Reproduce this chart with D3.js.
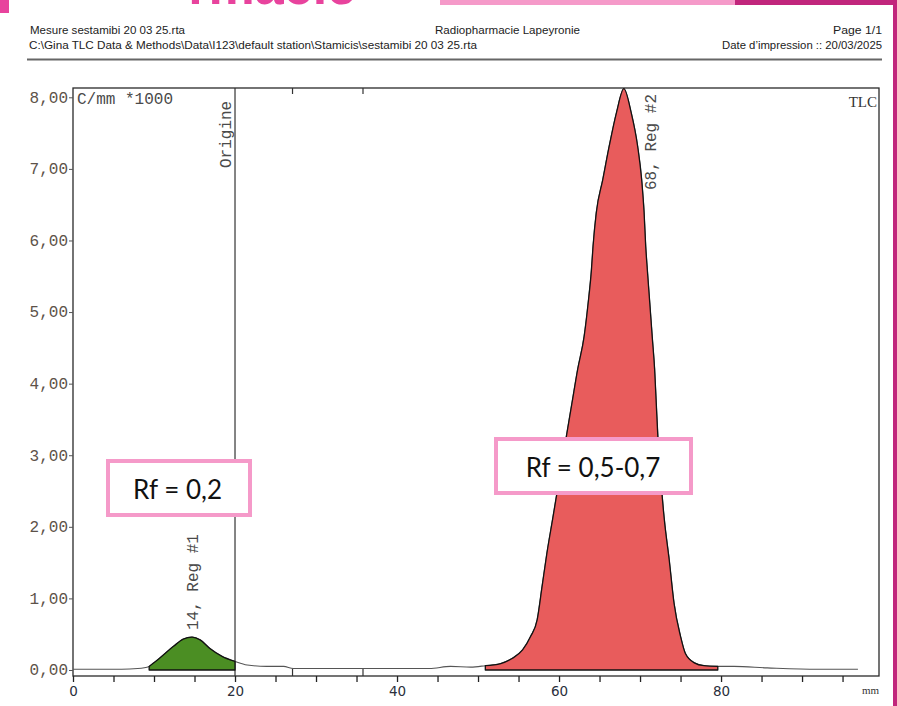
<!DOCTYPE html>
<html>
<head>
<meta charset="utf-8">
<script src="https://cdn.jsdelivr.net/npm/d3@7"></script>
<style>
    body { margin: 0; background: #fff; }
    svg { display: block; }
</style>
</head>
<body>
<div id="chart"></div>
<script>
// Trace du chromatogramme : position (mm) et comptage (C/mm *1000)
const posMm = [0, 2, 4, 6, 8, 9.4, 10.75, 12.4, 13.6, 14.7, 15.7, 16.9, 18.4, 20, 21.5, 23.9, 26, 27.2, 30, 35, 40, 44,
    46.6, 49.1, 50.9, 52.8, 54.2, 55.5, 56.5, 57.3, 57.9, 58.5, 59.2, 60.9, 61.6, 62.3, 63.1, 63.6, 64.0, 64.2, 64.6,
    65.4, 66.2, 67.1, 68.0, 68.9, 69.7, 70.2, 70.5, 70.7, 70.9, 71.2, 71.5, 71.8, 72.0, 72.2, 73.0, 73.6, 74.2, 75.0,
    75.6, 76.7, 77.9, 79.6, 81.6, 85.7, 91.9, 96.9];
const counts = [0.01, 0.01, 0.01, 0.01, 0.02, 0.05, 0.17, 0.33, 0.43, 0.46, 0.42, 0.30, 0.19, 0.12, 0.07, 0.05, 0.05, 0.02, 0.02, 0.02, 0.02, 0.02,
    0.05, 0.04, 0.06, 0.09, 0.16, 0.28, 0.47, 0.70, 1.16, 1.63, 2.10, 3.26, 3.73, 4.20, 4.66, 5.13, 5.59, 5.92, 6.39,
    6.85, 7.32, 7.79, 8.12, 7.79, 7.32, 6.85, 6.39, 5.92, 5.59, 5.13, 4.66, 4.20, 3.73, 3.26, 2.10, 1.54, 0.93, 0.47,
    0.23, 0.10, 0.06, 0.05, 0.05, 0.03, 0.01, 0.01];

// Régions intégrées
const regionNames = ['Reg #1', 'Reg #2'];
const regionPeak = [14, 68];
const regionStart = [9.4, 50.9];
const regionEnd = [20, 79.6];
const regionRf = ['Rf = 0,2', 'Rf = 0,5-0,7'];

// Repères
const originMm = 20;
const markTop = [27.1, 35.8, 68];
const markBottom = [27.1, 35.8];

// Axes
const yTicks = [0, 1, 2, 3, 4, 5, 6, 7, 8];
const xTicks = [0, 5, 10, 15, 20, 25, 30, 35, 40, 45, 50, 55, 60, 65, 70, 75, 80, 85, 90, 95];
const xLabels = [0, 20, 40, 60, 80];

// Couleurs
const COLOR_REG = ['#4b8e23', '#e85c5c'],
    COLOR_PINK = '#f59ac9',
    COLOR_MAGENTA = '#c1267c',
    COLOR_TEXT_PINK = '#e8439d';

const W = 897, H = 706;
let margin = {top: 88, left: 73, right: 879, bottom: 676};

let svg = d3.select('#chart').append('svg')
    .attr('width', W).attr('height', H);

//Bandeau du haut
svg.append('rect').attr('x', 0).attr('y', 0).attr('width', 9).attr('height', 13).attr('fill', COLOR_TEXT_PINK);
svg.append('text').attr('x', 356).attr('y', 4)
    .attr('text-anchor', 'end')
    .style('font-family', 'Liberation Sans, sans-serif').style('font-weight', 'bold').style('font-size', '52px')
    .attr('fill', COLOR_TEXT_PINK).text('rmacie');
svg.append('rect').attr('x', 440).attr('y', 0).attr('width', 295).attr('height', 5).attr('fill', COLOR_PINK);
svg.append('rect').attr('x', 735).attr('y', 0).attr('width', 162).attr('height', 5).attr('fill', COLOR_MAGENTA);
svg.append('rect').attr('x', 893).attr('y', 0).attr('width', 4).attr('height', H).attr('fill', COLOR_MAGENTA);

//En-tête du rapport
let header = svg.append('g')
    .style('font-family', '"Liberation Sans Narrow", "Liberation Sans", sans-serif')
    .style('font-size', '11.5px')
    .attr('fill', '#222');

function headText(x, y, w, anchor, txt) {
    header.append('text').attr('x', x).attr('y', y)
        .attr('text-anchor', anchor)
        .attr('textLength', w).attr('lengthAdjust', 'spacingAndGlyphs')
        .text(txt);
}
headText(30, 34, 155, 'start', 'Mesure sestamibi 20 03 25.rta');
headText(435, 34, 145, 'start', 'Radiopharmacie Lapeyronie');
headText(833, 34, 49, 'start', 'Page  1/1');
headText(29, 49, 448, 'start', 'C:\\Gina TLC Data & Methods\\Data\\I123\\default station\\Stamicis\\sestamibi 20 03 25.rta');
headText(722, 49, 160, 'start', 'Date d\u2019impression :: 20/03/2025');

svg.append('line')
    .attr('x1', 27).attr('x2', 882).attr('y1', 59.5).attr('y2', 59.5)
    .attr('stroke', '#666').attr('stroke-width', 2);

//Echelles
let x = d3.scaleLinear().domain([0, 99.5]).range([margin.left, margin.right]);
let y = d3.scaleLinear().domain([-0.084, 8.13]).range([margin.bottom, margin.top]);

let data = posMm.map(function(d, i) { return [d, counts[i]]; });

//Cadre
svg.append('rect')
    .attr('x', margin.left).attr('y', margin.top)
    .attr('width', margin.right - margin.left).attr('height', margin.bottom - margin.top)
    .attr('fill', 'none').attr('stroke', '#2a2a2a').attr('stroke-width', 1.3);

//Axe Y
let yAxis = svg.append('g')
    .attr('transform', 'translate(' + margin.left + ',0)')
    .call(d3.axisLeft(y).tickValues(yTicks).tickSize(4).tickPadding(1)
        .tickFormat(function(d) { return d.toFixed(2).replace('.', ','); }));
yAxis.select('.domain').remove();
yAxis.selectAll('.tick line').attr('stroke', '#555');
yAxis.selectAll('text')
    .style('font-family', '"Liberation Mono", monospace').style('font-size', '16px')
    .attr('fill', '#5d5249').attr('dy', '0.3em');

//Axe X
let xAxis = svg.append('g')
    .attr('transform', 'translate(0,' + margin.bottom + ')')
    .call(d3.axisBottom(x).tickValues(xTicks).tickSize(6).tickPadding(4)
        .tickFormat(function(d) { return xLabels.indexOf(d) != -1 ? d : ''; }));
xAxis.select('.domain').remove();
xAxis.selectAll('.tick line').attr('stroke', '#222').attr('stroke-width', 1.3);
xAxis.selectAll('text')
    .style('font-family', '"DejaVu Sans", sans-serif').style('font-size', '13.5px')
    .attr('fill', '#2b2f3c');

svg.append('text').attr('x', margin.right).attr('y', 694)
    .attr('text-anchor', 'end')
    .style('font-family', '"Liberation Serif", serif').style('font-size', '11px')
    .attr('fill', '#333').text('mm');

//Repères de régions
svg.append('g').selectAll('line').data(markTop).enter().append('line')
    .attr('x1', function(d) { return x(d); }).attr('x2', function(d) { return x(d); })
    .attr('y1', margin.top).attr('y2', margin.top + 6)
    .attr('stroke', '#333').attr('stroke-width', 1.2);
svg.append('g').selectAll('line').data(markBottom).enter().append('line')
    .attr('x1', function(d) { return x(d); }).attr('x2', function(d) { return x(d); })
    .attr('y1', margin.bottom).attr('y2', y(0.02))
    .attr('stroke', '#333').attr('stroke-width', 1.2);

//Ligne d'origine
svg.append('line')
    .attr('x1', x(originMm)).attr('x2', x(originMm))
    .attr('y1', margin.top).attr('y2', margin.bottom)
    .attr('stroke', '#333').attr('stroke-width', 1.2);

//Trace
let line = d3.line()
    .x(function(d) { return x(d[0]); })
    .y(function(d) { return y(d[1]); })
    .curve(d3.curveMonotoneX);

svg.append('path')
    .datum(data)
    .attr('fill', 'none').attr('stroke', '#555').attr('stroke-width', 1.1)
    .attr('d', line);

//Régions remplies
let area = d3.area()
    .x(function(d) { return x(d[0]); })
    .y0(y(0))
    .y1(function(d) { return y(d[1]); })
    .curve(d3.curveMonotoneX);

regionNames.forEach(function(name, i) {
    let pts = data.filter(function(d) { return d[0] >= regionStart[i] && d[0] <= regionEnd[i]; });
    svg.append('path')
        .datum(pts)
        .attr('fill', COLOR_REG[i]).attr('stroke', '#111').attr('stroke-width', 1.3)
        .attr('stroke-linejoin', 'round')
        .attr('d', function(d) { return area(d) + 'Z'; });
});

//Textes dans le graphique
let mono = function(sel) {
    sel.style('font-family', '"Liberation Mono", monospace').style('font-size', '16px').attr('fill', '#4a4a4a');
};

svg.append('text').attr('x', 77).attr('y', 104).text('C/mm *1000').call(mono);
svg.append('text').attr('x', 877).attr('y', 107).attr('text-anchor', 'end')
    .style('font-family', '"Liberation Serif", serif').style('font-size', '15px').attr('fill', '#333').text('TLC');

svg.append('text')
    .attr('transform', 'translate(' + (x(originMm) - 4) + ',168) rotate(-90)')
    .text('Origine').call(mono);

svg.append('text')
    .attr('transform', 'translate(' + (x(regionPeak[0]) + 12) + ',' + (y(0.46) - 7) + ') rotate(-90)')
    .text(regionPeak[0] + ',  ' + regionNames[0]).call(mono);
svg.append('text')
    .attr('transform', 'translate(' + (x(regionPeak[1]) + 32) + ',190) rotate(-90)')
    .text(regionPeak[1] + ',  ' + regionNames[1]).call(mono);

//Encadrés Rf
let boxes = [
    {x: 108, y: 461, w: 142, h: 54, tx: 177.5, ty: 499},
    {x: 496, y: 439, w: 195, h: 54, tx: 593, ty: 477}
];
boxes.forEach(function(b, i) {
    svg.append('rect')
        .attr('x', b.x).attr('y', b.y).attr('width', b.w).attr('height', b.h)
        .attr('fill', '#fff').attr('stroke', COLOR_PINK).attr('stroke-width', 4);
    svg.append('text')
        .attr('x', b.tx).attr('y', b.ty).attr('text-anchor', 'middle')
        .style('font-family', 'Lato, "Open Sans", sans-serif').style('font-size', '26px')
        .attr('fill', '#111').text(regionRf[i]);
});
</script>
</body>
</html>
